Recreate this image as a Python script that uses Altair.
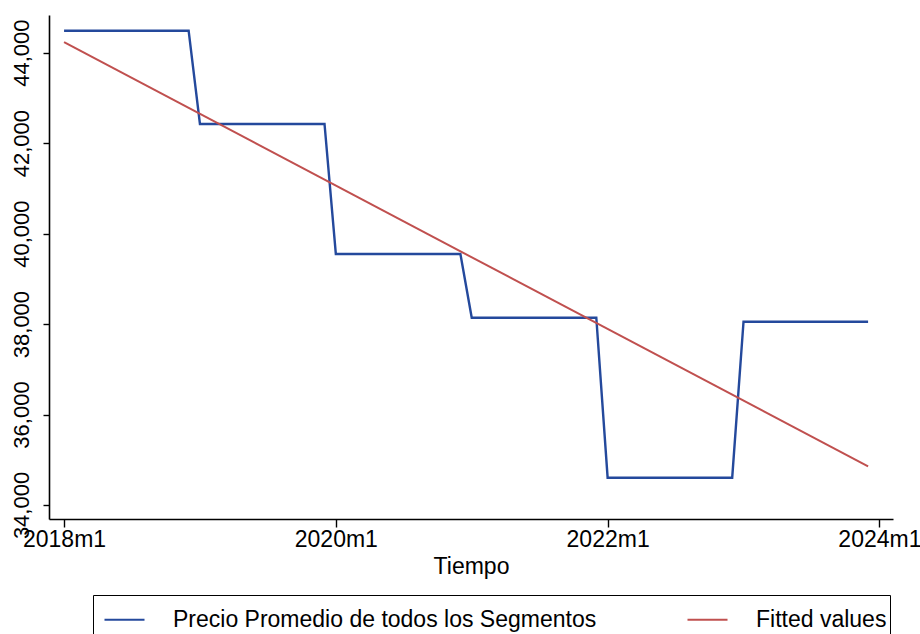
import altair as alt
import pandas as pd

# Average annual price of all segments (constant within each year)
years = [2018, 2019, 2020, 2021, 2022, 2023]
annual_price = [44486, 42424, 39549, 38139, 34603, 38051]

SERIES = "Precio Promedio de todos los Segmentos"
FITTED = "Fitted values"
BLUE = "#24499c"
RED = "#c0504f"
FONT = "Liberation Sans"

# Monthly series: t = months since 2018m1, every month of a year carries that year's average
rows = []
for i, (yr, price) in enumerate(zip(years, annual_price)):
    for m in range(12):
        rows.append({"t": i * 12 + m, "precio": price, "serie": SERIES})
monthly = pd.DataFrame(rows)

x_ticks = [0, 24, 48, 72]
y_ticks = [34000, 36000, 38000, 40000, 42000, 44000]

color = alt.Color(
    "serie:N",
    scale=alt.Scale(domain=[SERIES, FITTED], range=[BLUE, RED]),
    legend=alt.Legend(
        orient="none",
        legendX=44,
        legendY=580,
        direction="horizontal",
        columns=2,
        columnPadding=82,
        title=None,
        symbolType="stroke",
        symbolSize=1600,
        symbolStrokeWidth=2.2,
        symbolOffset=7,
        labelFont=FONT,
        labelFontSize=23,
        labelColor="black",
        labelOffset=27,
        labelLimit=600,
        strokeColor="black",
        padding=3,
    ),
)

x_enc = alt.X(
    "t:Q",
    scale=alt.Scale(domain=[-1.33, 73.2], nice=False, zero=False),
    axis=alt.Axis(
        values=x_ticks,
        labelExpr="toString(2018 + floor(datum.value / 12)) + 'm' + toString(datum.value % 12 + 1)",
        title="Tiempo",
        grid=False,
        domainColor="black",
        domainWidth=1.6,
        tickColor="black",
        tickSize=8,
        tickWidth=1.4,
        labelFont=FONT,
        labelFontSize=23,
        labelColor="black",
        labelPadding=1,
        labelFlush=False,
        titleFont=FONT,
        titleFontSize=23,
        titleFontWeight="normal",
        titleColor="black",
        titlePadding=4,
    ),
)

y_enc = alt.Y(
    "precio:Q",
    scale=alt.Scale(domain=[33690, 44833], nice=False, zero=False),
    axis=alt.Axis(
        values=y_ticks,
        format=",d",
        title=None,
        grid=False,
        domainColor="black",
        domainWidth=1.6,
        tickColor="black",
        tickSize=6,
        tickWidth=1.4,
        labelAngle=270,
        labelAlign="center",
        labelBaseline="bottom",
        labelFont=FONT,
        labelFontSize=22,
        labelColor="black",
        labelPadding=10,
        labelFlush=False,
    ),
)

price_line = alt.Chart(monthly).mark_line(strokeWidth=2.4).encode(
    x=x_enc, y=y_enc, color=color
)

fitted_line = (
    alt.Chart(monthly)
    .transform_regression("t", "precio", method="linear")
    .transform_calculate(serie=f"'{FITTED}'")
    .mark_line(strokeWidth=2.0)
    .encode(x=x_enc, y=y_enc, color=color)
)

chart = (
    alt.layer(price_line, fitted_line)
    .properties(
        width=844,
        height=504,
        autosize=alt.AutoSizeParams(type="none"),
        padding={"left": 49, "top": 15, "right": 27, "bottom": 115},
        background="white",
    )
    .configure_view(stroke=None)
)

chart.save("out.html", embed_options={"renderer": "svg", "actions": False})
